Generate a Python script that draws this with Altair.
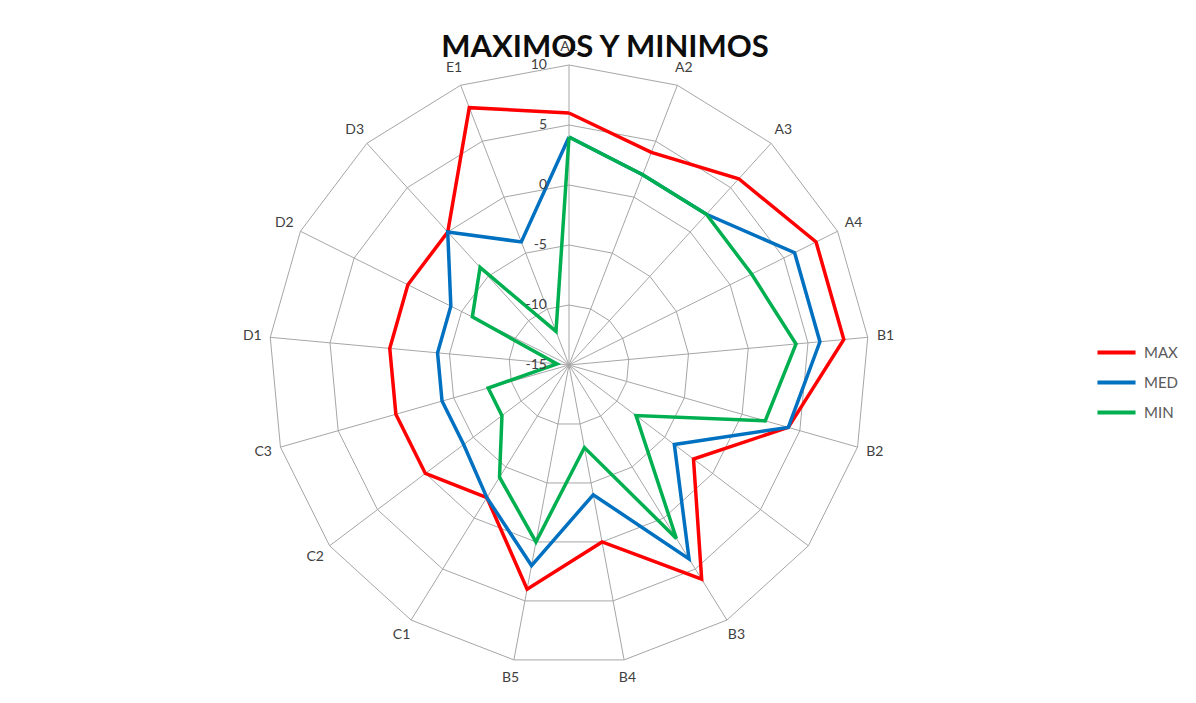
import altair as alt
import pandas as pd

# ---- data ----
title_text = "MAXIMOS Y MINIMOS"
categories = ["A1", "A2", "A3", "A4", "B1", "B2", "", "B3", "B4", "B5",
              "C1", "C2", "C3", "D1", "D2", "D3", "E1"]
max_vals = [6, 4, 6, 8, 8, 4, -2, 6, 0, 4, -2, 0, 0, 0, 0, 0, 8]
med_vals = [4, 2, 2, 6, 6, 4, -4, 4, -4, 2, -2, -4, -4, -4, -4, 0, -4]
min_vals = [4, 2, 2, 2, 4, 2, -8, 2, -8, 0, -4, -8, -8, -14, -6, -4, -12]
series_names = ["MAX", "MED", "MIN"]
series_colors = ["#FF0000", "#0070C0", "#00B050"]
ring_levels = [-10, -5, 0, 5, 10]
tick_values = [10, 5, 0, -5, -10, -15]
tick_labels = ["10", "5", "0", "-5", "-10", "-15"]
axis_min = -15
axis_max = 10

N = len(categories)
SPAN = axis_max - axis_min

# ---- tables built from the arrays ----
rows = []
for name, vals in zip(series_names, [max_vals, med_vals, min_vals]):
    for k in range(N + 1):
        rows.append({"serie": name, "k": k, "value": vals[k % N]})
series_df = pd.DataFrame(rows)

ring_rows = []
for lv in ring_levels:
    for k in range(N + 1):
        ring_rows.append({"level": lv, "k": k, "value": lv})
ring_df = pd.DataFrame(ring_rows)

spoke_df = pd.DataFrame({"k": list(range(N)), "value": [axis_max] * N})
cat_df = pd.DataFrame({"k": list(range(N)), "label": categories})
tick_df = pd.DataFrame({"value": tick_values, "label": tick_labels})
title_df = pd.DataFrame({"t": [title_text]})

PX = f"(datum.value - ({axis_min}))"
TH = f"(2 * PI * datum.k / {N})"

xs = alt.Scale(domain=[-SPAN, SPAN], nice=False, zero=False)
ys = alt.Scale(domain=[-SPAN, SPAN], nice=False, zero=False)

grid_color = "#A6A6A6"
font = "Lato"

rings = alt.Chart(ring_df).mark_line(color=grid_color, strokeWidth=1).transform_calculate(
    px=f"{PX} * sin({TH})", py=f"{PX} * cos({TH})"
).encode(
    x=alt.X("px:Q", scale=xs, axis=None),
    y=alt.Y("py:Q", scale=ys, axis=None),
    detail="level:N",
    order="k:Q",
)

spokes = alt.Chart(spoke_df).mark_rule(color=grid_color, strokeWidth=1).transform_calculate(
    x0="0", y0="0",
    px=f"{PX} * sin({TH})", py=f"{PX} * cos({TH})"
).encode(
    x=alt.X("x0:Q", scale=xs, axis=None),
    y=alt.Y("y0:Q", scale=ys, axis=None),
    x2="px:Q",
    y2="py:Q",
)

ticks = alt.Chart(tick_df).mark_text(
    font=font, fontSize=14, color="#404040", align="right", baseline="middle", dx=-22
).transform_calculate(
    x0="0", py=PX
).encode(
    x=alt.X("x0:Q", scale=xs, axis=None),
    y=alt.Y("py:Q", scale=ys, axis=None),
    text="label:N",
)

lines = alt.Chart(series_df).mark_line(strokeWidth=3.5).transform_calculate(
    px=f"{PX} * sin({TH})", py=f"{PX} * cos({TH})"
).encode(
    x=alt.X("px:Q", scale=xs, axis=None),
    y=alt.Y("py:Q", scale=ys, axis=None),
    order="k:Q",
    color=alt.Color(
        "serie:N",
        scale=alt.Scale(domain=series_names, range=series_colors),
        legend=alt.Legend(
            title=None, orient="none", legendX=826, legendY=266,
            symbolType="stroke", symbolSize=1450, symbolStrokeWidth=4,
            labelFont=font, labelFontSize=15, labelColor="#595959",
            labelOffset=6, rowPadding=0, padding=0,
        ),
    ),
)

cat_labels = alt.Chart(cat_df).mark_text(
    font=font, fontSize=14, color="#404040", align="center", baseline="middle"
).transform_calculate(
    px=f"{SPAN * 1.06} * sin({TH})", py=f"{SPAN * 1.06} * cos({TH})"
).encode(
    x=alt.X("px:Q", scale=xs, axis=None),
    y=alt.Y("py:Q", scale=ys, axis=None),
    text="label:N",
)

title = alt.Chart(title_df).mark_text(
    font=font, fontSize=31, fontWeight="bold", color="#0D0D0D",
    align="center", baseline="alphabetic",
).encode(
    x=alt.value(336),
    y=alt.value(-8),
    text="t:N",
)

chart = alt.layer(rings, spokes, lines, ticks, cat_labels, title).properties(
    width=600,
    height=600,
    background="white",
    autosize=alt.AutoSizeParams(type="none"),
    padding={"left": 261, "top": 57, "right": 319, "bottom": 28},
).configure_view(strokeWidth=0, stroke="transparent")

chart.save("out.html", embed_options={"renderer": "svg", "actions": False})
